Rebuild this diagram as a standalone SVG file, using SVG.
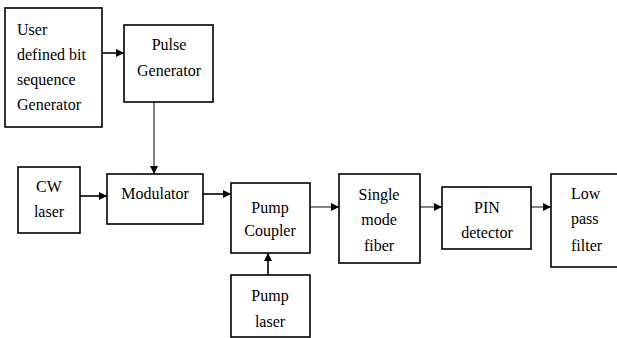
<svg xmlns="http://www.w3.org/2000/svg" width="617" height="338" viewBox="0 0 617 338">
<defs>
<style>
rect.box{fill:#fff;stroke:#000;stroke-width:1.6}
text{font-family:"Liberation Serif","Times New Roman",serif;font-size:16px;fill:#000}
.c{text-anchor:middle}
.ln{stroke:#000;stroke-width:1.6;fill:none;marker-end:url(#ah)}
.g{stroke:#666}
</style>
<marker id="ah" viewBox="0 0 10 10" refX="10" refY="5" markerWidth="8" markerHeight="8" markerUnits="userSpaceOnUse" orient="auto">
<path d="M0,0 L10,5 L0,10 z" fill="#000"/>
</marker>
</defs>
<rect width="617" height="338" fill="#fff"/>
<g id="connectors">
<line class="ln" x1="102" y1="53" x2="124" y2="53"/>
<line class="ln g" x1="154" y1="102" x2="154" y2="174"/>
<line class="ln" x1="80" y1="196" x2="107" y2="196"/>
<line class="ln" x1="203" y1="194" x2="231" y2="194"/>
<line class="ln" x1="268" y1="275" x2="268" y2="253"/>
<line class="ln g" x1="310" y1="207" x2="339" y2="207"/>
<line class="ln g" x1="420" y1="207" x2="442" y2="207"/>
<line class="ln g" x1="531" y1="207" x2="551" y2="207"/>
</g>
<g id="user-bit-generator">
<rect class="box" x="5" y="8" width="97" height="119"/>
<text x="17" y="35">User</text>
<text x="17" y="60">defined bit</text>
<text x="17" y="85">sequence</text>
<text x="17" y="110">Generator</text>
</g>
<g id="pulse-generator">
<rect class="box" x="124" y="25" width="89" height="77"/>
<text class="c" x="169" y="50">Pulse</text>
<text class="c" x="169" y="76">Generator</text>
</g>
<g id="cw-laser">
<rect class="box" x="18" y="167" width="62" height="66"/>
<text class="c" x="49" y="192">CW</text>
<text class="c" x="49" y="217">laser</text>
</g>
<g id="modulator">
<rect class="box" x="107" y="174" width="96" height="50"/>
<text class="c" x="155" y="199">Modulator</text>
</g>
<g id="pump-coupler">
<rect class="box" x="231" y="183" width="79" height="70"/>
<text class="c" x="270" y="213">Pump</text>
<text class="c" x="270" y="236">Coupler</text>
</g>
<g id="pump-laser">
<rect class="box" x="231" y="275" width="79" height="62"/>
<text class="c" x="270" y="301">Pump</text>
<text class="c" x="270" y="327">laser</text>
</g>
<g id="single-mode-fiber">
<rect class="box" x="339" y="174" width="81" height="89"/>
<text class="c" x="379" y="200">Single</text>
<text class="c" x="379" y="225">mode</text>
<text class="c" x="379" y="251">fiber</text>
</g>
<g id="pin-detector">
<rect class="box" x="442" y="187" width="89" height="62"/>
<text class="c" x="487" y="213">PIN</text>
<text class="c" x="487" y="238">detector</text>
</g>
<g id="low-pass-filter">
<rect class="box" x="551" y="174" width="70" height="93"/>
<text x="571" y="199">Low</text>
<text x="571" y="224">pass</text>
<text x="571" y="251">filter</text>
</g>
</svg>
